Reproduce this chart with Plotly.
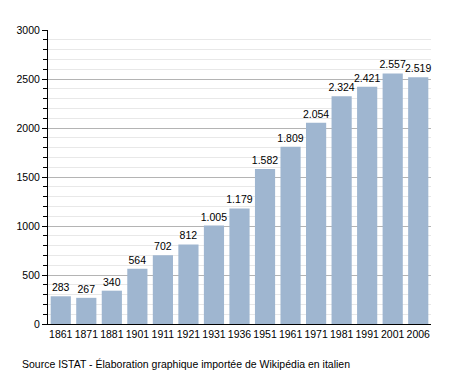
import plotly.graph_objects as go

years = ["1861", "1871", "1881", "1901", "1911", "1921", "1931", "1936",
         "1951", "1961", "1971", "1981", "1991", "2001", "2006"]
population = [283, 267, 340, 564, 702, 812, 1005, 1179,
              1582, 1809, 2054, 2324, 2421, 2557, 2519]
labels = ["{:,}".format(v).replace(",", ".") for v in population]
source_text = "Source ISTAT - Élaboration graphique importée de Wikipédia en italien"

FONT = "Liberation Sans, Arial, sans-serif"

fig = go.Figure(go.Bar(
    x=years, y=population, text=labels, textposition="outside",
    textfont=dict(color="black", size=10.5, family=FONT),
    constraintext="none", cliponaxis=False,
    marker=dict(color="#9fb6d0", line=dict(width=0)),
))

fig.update_layout(
    width=450, height=365,
    margin=dict(l=40, r=27, t=22, b=49),
    paper_bgcolor="white", plot_bgcolor="white",
    bargap=0.21, showlegend=False,
    font=dict(family=FONT, size=10.5, color="black"),
    xaxis=dict(showline=True, linecolor="black", linewidth=1, ticks="",
               tickangle=0, automargin=False,
               tickfont=dict(size=10.5), fixedrange=True),
    yaxis=dict(range=[0, 3000], tick0=0, dtick=500, showline=True, linecolor="black",
               linewidth=1, ticks="outside", ticklen=5, tickcolor="black",
               showgrid=True, gridcolor="#b4b4b4", gridwidth=1, zeroline=False,
               tickformat="d", tickfont=dict(size=10.5), automargin=False,
               minor=dict(dtick=100, showgrid=True, gridcolor="#e8e8e8",
                          ticks="outside", ticklen=4, tickcolor="black")),
    annotations=[dict(text=source_text, xref="paper", yref="paper",
                      x=-0.073, y=-0.109, xanchor="left", yanchor="top",
                      showarrow=False, font=dict(size=10.5, color="black"))],
)

fig.write_html("out.html")
